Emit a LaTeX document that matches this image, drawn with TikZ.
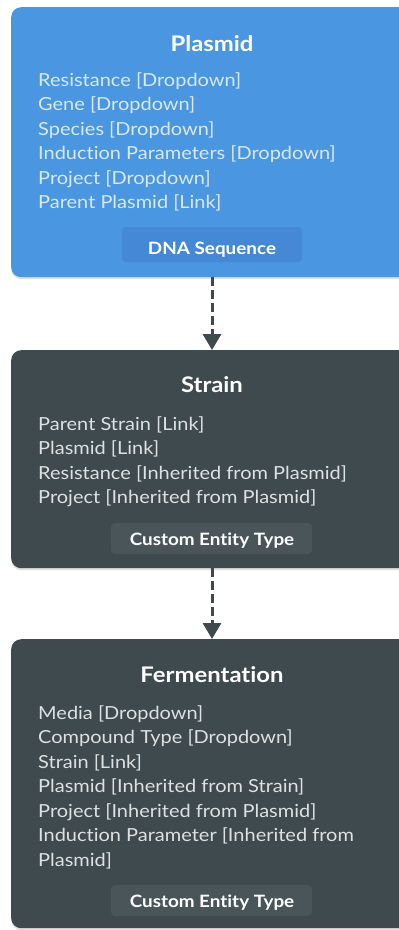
\documentclass[tikz,border=0pt]{standalone}
\usepackage{fontspec}
\setmainfont[FakeStretch=1.11, Ligatures={NoCommon,NoRare}]{Lato}
\usetikzlibrary{arrows.meta,shadows}
\definecolor{blueBox}{HTML}{4B96E1}
\definecolor{blueBadge}{HTML}{4589D6}
\definecolor{darkBox}{HTML}{3E4A4E}
\definecolor{darkBadge}{HTML}{4A555A}
\definecolor{blueText}{HTML}{D8E8F8}
\definecolor{darkText}{HTML}{DDE1E2}
\definecolor{arrowCol}{HTML}{3E4A4E}
\tikzset{
  card/.style={anchor=north west, minimum width=400pt, rounded corners=10pt, inner sep=0pt,
    drop shadow={opacity=0.25, shadow xshift=0pt, shadow yshift=-2pt}},
  ttl/.style={anchor=base, inner sep=0pt, text=white, font=\fontsize{21.5}{24}\selectfont\bfseries},
  item/.style={anchor=base west, inner sep=0pt, font=\fontsize{18}{24}\selectfont},
  badge/.style={rounded corners=4pt, inner sep=0pt},
  badgetext/.style={anchor=base, inner sep=0pt, text=white, font=\fontsize{17}{20}\selectfont\bfseries},
  conn/.style={draw=arrowCol, line width=3pt, dash pattern=on 9pt off 4pt,
    -{Triangle[length=16pt,width=18pt]}}
}
\begin{document}
\begin{tikzpicture}[x=1pt,y=-1pt]
\useasboundingbox (0,0) rectangle (399,930);
\clip (0,0) rectangle (399,930);
% cards
\node[card, fill=blueBox, minimum height=270pt] (plasmid) at (11,7) {};
\node[card, fill=darkBox, minimum height=218pt] (strain) at (11,350) {};
\node[card, fill=darkBox, minimum height=289pt] (ferm) at (11,639) {};
% Plasmid
\node[ttl] (ptitle) at (212,51) {Plasmid};
\foreach \t [count=\i] in {Resistance [Dropdown],Gene [Dropdown],Species [Dropdown],Induction Parameters [Dropdown],Project [Dropdown],Parent Plasmid [Link]}
  \node[item, text=blueText] (p\i) at (38,{86+24.5*(\i-1)}) {\t};
\path[fill=blueBadge, badge] (122,227) rectangle (302,262);
\node[badgetext] (dna) at (212,254) {DNA Sequence};
% Strain
\node[ttl] (stitle) at (212,392) {Strain};
\foreach \t [count=\i] in {Parent Strain [Link],Plasmid [Link],Resistance [Inherited from Plasmid],Project [Inherited from Plasmid]}
  \node[item, text=darkText] (s\i) at (38,{430+24.5*(\i-1)}) {\t};
\path[fill=darkBadge, badge] (111,523) rectangle (312,554);
\node[badgetext] (cet1) at (212,545) {Custom Entity Type};
% Fermentation
\node[ttl] (ftitle) at (212,682) {Fermentation};
\foreach \t [count=\i] in {Media [Dropdown],Compound Type [Dropdown],Strain [Link],Plasmid [Inherited from Strain],Project [Inherited from Plasmid],Induction Parameter [Inherited from,Plasmid]}
  \node[item, text=darkText] (f\i) at (38,{719+24.5*(\i-1)}) {\t};
\path[fill=darkBadge, badge] (111,885) rectangle (312,916);
\node[badgetext] (cet2) at (212,907) {Custom Entity Type};
% connectors
\draw[conn] (plasmid.south -| dna.base) -- (strain.north -| dna.base);
\draw[conn] (strain.south -| cet1.base) -- (ferm.north -| cet1.base);
\end{tikzpicture}
\end{document}
